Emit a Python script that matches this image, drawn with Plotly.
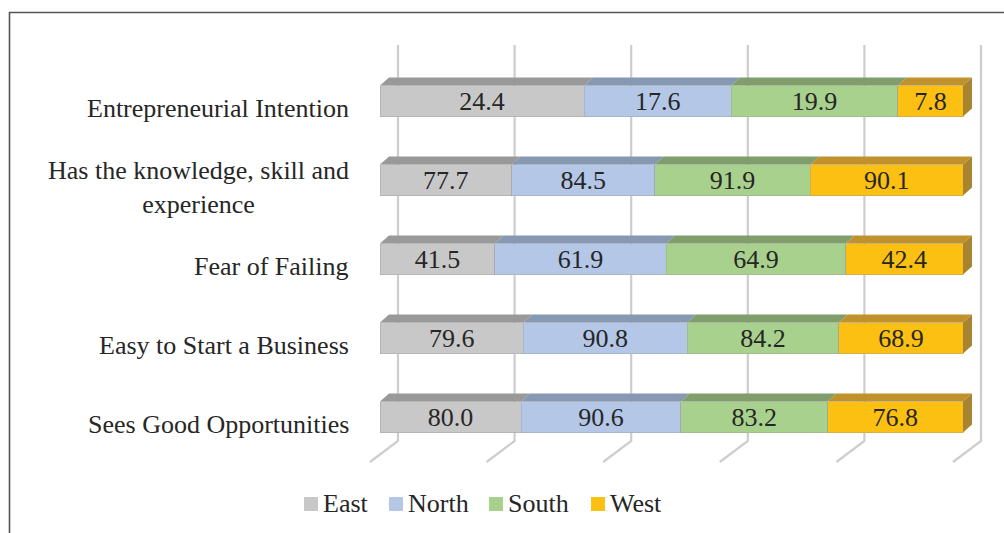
import plotly.graph_objects as go

# ---------------- data ----------------
categories = [
    "Entrepreneurial Intention",
    "Has the knowledge, skill and<br>experience",
    "Fear of Failing",
    "Easy to Start a Business",
    "Sees Good Opportunities",
]
series_names = ["East", "North", "South", "West"]
east = [24.4, 77.7, 41.5, 79.6, 80.0]
north = [17.6, 84.5, 61.9, 90.8, 90.6]
south = [19.9, 91.9, 64.9, 84.2, 83.2]
west = [7.8, 90.1, 42.4, 68.9, 76.8]
grid_ticks = [0, 20, 40, 60, 80, 100]

# ---------------- styles ----------------
front_colors = ["#C8C8C8", "#B4C7E7", "#A9D18E", "#FCC012"]
top_colors = ["#999999", "#8798B2", "#7F9E6B", "#C1922C"]
side_color = "#A88430"
FONT = "Liberation Serif, Times New Roman, serif"
TXT = "#262626"

W, H = 1004, 533
L, R, T, B = 360, 4, 40, 63
X0PX, X100PX = 380, 963          # pixel positions of 0 % and 100 % on the bar front
S = (X100PX - X0PX) / 100.0      # px per percent
ROW0PX, ROWSTEP = 101, 79        # pixel centre of first row, row spacing
PLOT_W, PLOT_H = W - L - R, H - T - B


def px2x(px):
    return (px - X0PX) / S


def dpx2x(d):
    return d / S


def py2y(py):
    return (py - ROW0PX) / ROWSTEP


def dpy2y(d):
    return d / ROWSTEP


def px2paper(px):
    return (px - L) / PLOT_W


def py2paper(py):
    return (T + PLOT_H - py) / PLOT_H


series = [east, north, south, west]
rows = list(range(len(categories)))
bar_w = 31 / ROWSTEP
DX, DY = 9, 8  # depth offset in px

fig = go.Figure()
for name, vals, col in zip(series_names, series, front_colors):
    fig.add_trace(go.Bar(
        y=rows, x=vals, name=name, orientation="h",
        marker=dict(color=col, line=dict(color="rgba(150,150,150,0.45)", width=0.8)),
        width=bar_w,
        text=[f"{v:.1f}" for v in vals],
        textposition="inside", insidetextanchor="middle",
        constraintext="none", textangle=0,
        textfont=dict(family=FONT, size=26, color=TXT),
        showlegend=False, hoverinfo="x+y+name",
    ))

shapes = []
# back-wall gridlines with floor slant
grid_off = dpx2x(18)
y_top = py2y(45)
y_bend = py2y(441)
y_end = py2y(462)
for g in grid_ticks:
    xb = g + grid_off
    xe = xb - dpx2x(28)
    shapes.append(dict(
        type="path", xref="x", yref="y", layer="below",
        path=f"M{xb},{y_top} L{xb},{y_bend} L{xe},{y_end}",
        line=dict(color="#CDCDCD", width=2.2),
    ))

# 3D top faces and right side faces
for i in rows:
    tot = sum(s[i] for s in series)
    cum = 0.0
    ytop = i - bar_w / 2
    ybot = i + bar_w / 2
    dx = dpx2x(DX)
    dy = dpy2y(DY)
    for k, s in enumerate(series):
        x0 = cum / tot * 100
        cum += s[i]
        x1 = cum / tot * 100
        shapes.append(dict(
            type="path", xref="x", yref="y", layer="above",
            path=f"M{x0},{ytop} L{x1},{ytop} L{x1+dx},{ytop-dy} L{x0+dx},{ytop-dy} Z",
            fillcolor=top_colors[k], line=dict(width=0),
        ))
    shapes.append(dict(
        type="path", xref="x", yref="y", layer="above",
        path=f"M100,{ytop} L{100+dx},{ytop-dy} L{100+dx},{ybot-dy} L100,{ybot} Z",
        fillcolor=side_color, line=dict(width=0),
    ))

# outer frame (left and top edges)
shapes.append(dict(
    type="path", xref="paper", yref="paper", layer="above",
    path=f"M{px2paper(9.5)},{py2paper(560)} L{px2paper(9.5)},{py2paper(12.5)} L{px2paper(1010)},{py2paper(12.5)}",
    line=dict(color="#555555", width=1.6),
))

annotations = []
# category labels
for i, c in enumerate(categories):
    annotations.append(dict(
        x=px2paper(351), xref="paper", y=i + dpy2y(7), yref="y",
        text=c, showarrow=False, xanchor="right", yanchor="middle", align="center",
        font=dict(family=FONT, size=26, color=TXT),
    ))

# legend (manual)
legend_text_x = [323, 408, 508, 610]
for name, col, tx in zip(series_names, front_colors, legend_text_x):
    shapes.append(dict(
        type="rect", xref="paper", yref="paper",
        x0=px2paper(tx - 19), x1=px2paper(tx - 5),
        y0=py2paper(511), y1=py2paper(497),
        fillcolor=col, line=dict(width=0),
    ))
    annotations.append(dict(
        x=px2paper(tx - 2), xref="paper", y=py2paper(503), yref="paper",
        text=name, showarrow=False, xanchor="left", yanchor="middle",
        font=dict(family=FONT, size=26, color=TXT),
    ))

fig.update_layout(
    width=W, height=H,
    margin=dict(l=L, r=R, t=T, b=B),
    paper_bgcolor="white", plot_bgcolor="white",
    barmode="stack", barnorm="percent",
    xaxis=dict(range=[px2x(L), px2x(W - R)], showgrid=False, zeroline=False,
               showticklabels=False, showline=False, fixedrange=True),
    yaxis=dict(range=[py2y(T + PLOT_H), py2y(T)], showgrid=False, zeroline=False,
               showticklabels=False, showline=False, fixedrange=True),
    shapes=shapes, annotations=annotations,
    showlegend=False,
)

fig.write_html(
    "out.html",
    config={"displayModeBar": False},
    post_script="document.body.style.margin='0';document.body.style.padding='0';",
)
